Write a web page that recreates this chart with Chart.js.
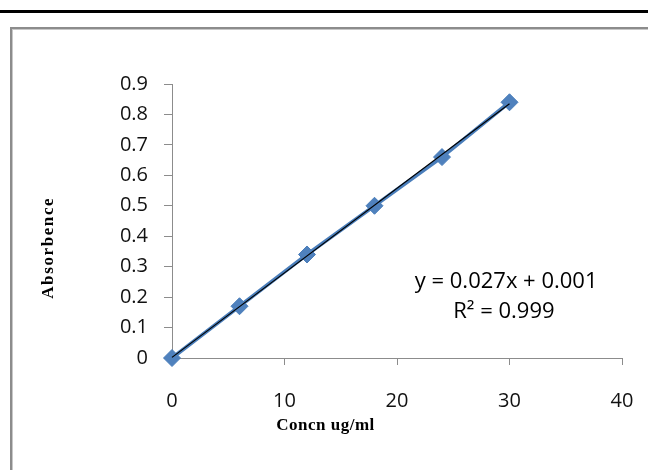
<!DOCTYPE html>
<html>
<head>
<meta charset="utf-8">
<script src="https://cdn.jsdelivr.net/npm/chart.js@4.4.1/dist/chart.umd.min.js"></script>
<style>
  html, body { margin: 0; padding: 0; background: #fff; }
  #wrap { position: relative; width: 648px; height: 470px; }
  canvas { display: block; }
</style>
</head>
<body>
<div id="wrap"><canvas id="c" width="648" height="470"></canvas></div>
<script>
// ---- data ----
const concn = [0, 6, 12, 18, 24, 30];
const absorbance = [0, 0.17, 0.34, 0.50, 0.66, 0.84];
const trendX = [0, 30];
const trendY = [0.002, 0.835];
const xTicks = [0, 10, 20, 30, 40];
const yTicks = ['0', '0.1', '0.2', '0.3', '0.4', '0.5', '0.6', '0.7', '0.8', '0.9'];
const xTitle = 'Concn ug/ml';
const yTitle = 'Absorbence';
const eqLines = ['y = 0.027x + 0.001', 'R² = 0.999'];

const seriesPts = concn.map((x, i) => ({ x: x, y: absorbance[i] }));
const trendPts = trendX.map((x, i) => ({ x: x, y: trendY[i] }));

const decor = {
  id: 'decor',
  beforeDraw(chart) {
    const ctx = chart.ctx;
    ctx.save();
    ctx.fillStyle = '#ffffff';
    ctx.fillRect(0, 0, chart.width, chart.height);
    // top black rule
    ctx.fillStyle = '#000000';
    ctx.fillRect(0, 10, chart.width, 3);
    // grey frame
    ctx.fillStyle = '#8c8c8c';
    ctx.fillRect(10, 27, chart.width - 10, 2);
    ctx.fillRect(10, 27, 2, chart.height - 27);
    ctx.fillStyle = '#c8c8c8';
    ctx.fillRect(12, 29, chart.width - 12, 1);
    ctx.fillRect(12, 29, 1, chart.height - 29);
    ctx.restore();
  },
  afterDraw(chart) {
    const ctx = chart.ctx;
    const xs = chart.scales.x, ys = chart.scales.y;
    ctx.save();
    ctx.fillStyle = '#000';
    ctx.font = 'bold 17px "Liberation Serif", "Times New Roman", serif';
    ctx.textAlign = 'center';
    ctx.textBaseline = 'middle';
    // x-axis title
    ctx.letterSpacing = '0.5px';
    ctx.fillText(xTitle, xs.getPixelForValue(13.65), 426);
    // y-axis title
    ctx.letterSpacing = '1.6px';
    ctx.translate(49, ys.getPixelForValue(0.362));
    ctx.rotate(-Math.PI / 2);
    ctx.fillText(yTitle, 0, 0);
    ctx.restore();
    // regression text
    ctx.save();
    ctx.fillStyle = '#000';
    ctx.font = '22px "Open Sans", sans-serif';
    ctx.textAlign = 'center';
    ctx.textBaseline = 'middle';
    ctx.fillText(eqLines[0], xs.getPixelForValue(29.7), ys.getPixelForValue(0.252));
    ctx.fillText(eqLines[1], xs.getPixelForValue(29.5), ys.getPixelForValue(0.153));
    ctx.restore();
  }
};

new Chart(document.getElementById('c'), {
  type: 'scatter',
  data: {
    datasets: [
      {
        label: 'Linear',
        data: trendPts,
        showLine: true,
        borderColor: '#000000',
        borderWidth: 1.2,
        pointRadius: 0,
        fill: false,
        clip: false
      },
      {
        label: 'Absorbance',
        data: seriesPts,
        showLine: true,
        borderColor: '#4A7EBB',
        borderWidth: 3.8,
        pointStyle: 'rectRot',
        pointRadius: 8.5,
        pointBackgroundColor: '#4F81BD',
        pointBorderColor: '#4A7EBB',
        pointBorderWidth: 1,
        fill: false,
        clip: false
      }
    ]
  },
  options: {
    responsive: false,
    animation: false,
    devicePixelRatio: 1,
    layout: { padding: { left: 0, top: 84, right: 26, bottom: 0 } },
    plugins: {
      legend: { display: false },
      tooltip: { enabled: false },
      title: { display: false }
    },
    scales: {
      x: {
        type: 'linear',
        min: 0,
        max: 40,
        afterFit(s) { s.height = 112; s.paddingLeft = 0; s.paddingRight = 0; },
        afterBuildTicks(s) { s.ticks = xTicks.map(v => ({ value: v })); },
        ticks: {
          font: { family: '"Open Sans", sans-serif', size: 20 },
          color: '#111',
          padding: 24,
          maxRotation: 0,
          callback: (v) => String(v)
        },
        grid: { drawOnChartArea: false, tickLength: 7, color: '#8c8c8c', tickWidth: 1 },
        border: { color: '#8c8c8c', width: 1 }
      },
      y: {
        type: 'linear',
        min: 0,
        max: 0.9,
        afterFit(s) { s.width = 172; s.paddingTop = 0; s.paddingBottom = 0; },
        afterBuildTicks(s) { s.ticks = yTicks.map(t => ({ value: parseFloat(t) })); },
        ticks: {
          font: { family: '"Open Sans", sans-serif', size: 20 },
          color: '#111',
          padding: 16,
          callback: (v, i) => yTicks[i]
        },
        grid: { drawOnChartArea: false, tickLength: 8, color: '#8c8c8c', tickWidth: 1 },
        border: { color: '#8c8c8c', width: 1 }
      }
    }
  },
  plugins: [decor]
});
</script>
</body>
</html>
